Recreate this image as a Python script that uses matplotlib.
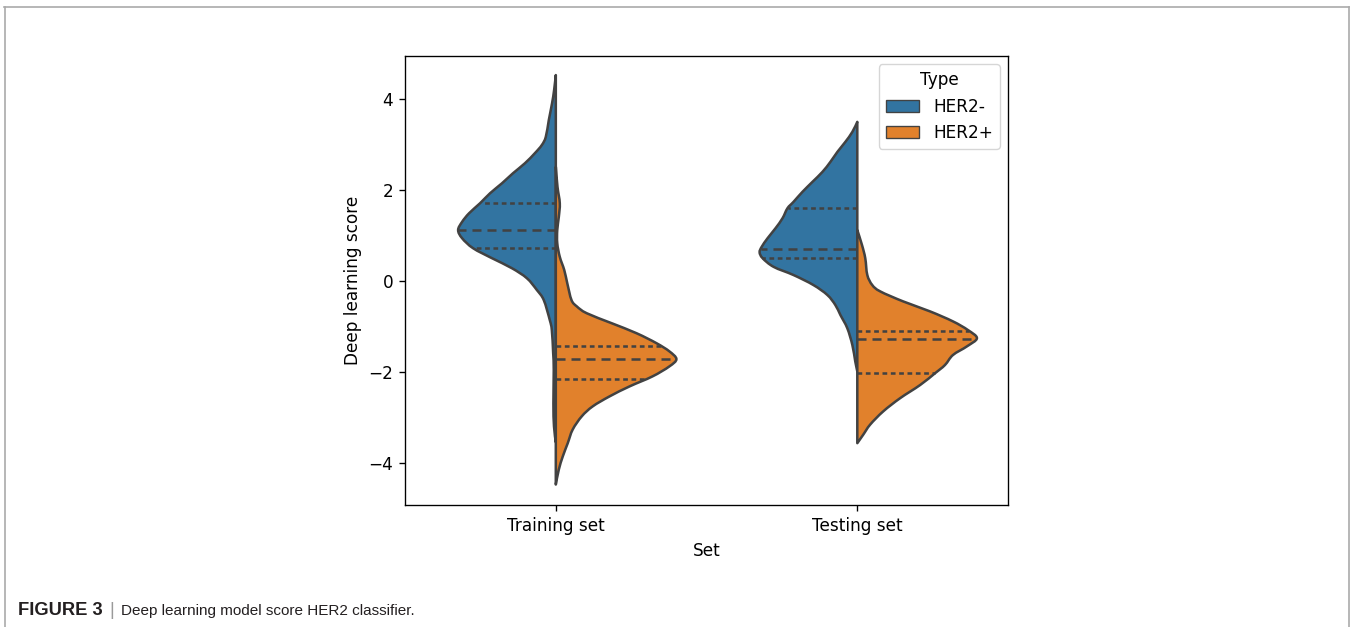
import numpy as np
import matplotlib
matplotlib.use("Agg")
import matplotlib.pyplot as plt
from matplotlib.lines import Line2D
from matplotlib.patches import Patch, PathPatch
from matplotlib.path import Path

## --- Data ---
SETS = ["Training set", "Testing set"]
TYPES = ["HER2-", "HER2+"]

# score levels and relative kernel density (1.0 = widest half) per violin half
train_neg_y = [4.53, 4.20, 3.91, 3.54, 3.17, 2.99, 2.81, 2.59, 2.37, 2.15, 1.93, 1.71, 1.49, 1.30,
               1.12, 0.94, 0.72, 0.50, 0.28, 0.06, -0.20, -0.42, -0.86, -1.08, -1.58, -1.96,
               -2.70, -3.20, -3.55]
train_neg_d = [0.0, 0.014, 0.031, 0.058, 0.083, 0.116, 0.174, 0.256, 0.355, 0.446, 0.545, 0.628,
               0.719, 0.777, 0.810, 0.777, 0.686, 0.529, 0.364, 0.240, 0.157, 0.10, 0.05, 0.033,
               0.022, 0.017, 0.02, 0.015, 0.0]

train_pos_y = [2.51, 2.07, 1.71, 1.41, 1.12, 0.83, 0.53, 0.24, -0.05, -0.42, -0.56, -0.71, -0.93,
               -1.15, -1.37, -1.55, -1.72, -1.88, -2.10, -2.32, -2.54, -2.76, -2.98, -3.27,
               -3.57, -3.86, -4.15, -4.48]
train_pos_d = [0.0, 0.014, 0.033, 0.025, 0.012, 0.012, 0.033, 0.070, 0.095, 0.13, 0.174, 0.256,
               0.463, 0.669, 0.835, 0.942, 1.0, 0.942, 0.802, 0.612, 0.446, 0.306, 0.215, 0.140,
               0.099, 0.058, 0.025, 0.0]

test_neg_y = [3.50, 3.28, 3.06, 2.84, 2.62, 2.40, 2.18, 1.96, 1.74, 1.60, 1.38, 1.16, 0.94, 0.75,
              0.63, 0.50, 0.31, 0.13, -0.09, -0.31, -0.53, -0.75, -1.04, -1.41, -1.77, -1.99]
test_neg_d = [0.0, 0.041, 0.099, 0.165, 0.223, 0.289, 0.372, 0.455, 0.529, 0.579, 0.620, 0.678,
              0.744, 0.793, 0.810, 0.785, 0.694, 0.529, 0.364, 0.248, 0.182, 0.140, 0.083, 0.041,
              0.017, 0.0]

test_pos_y = [1.12, 0.79, 0.50, 0.13, -0.09, -0.23, -0.45, -0.67, -0.89, -1.08, -1.26, -1.44,
              -1.63, -1.85, -2.03, -2.29, -2.58, -2.87, -3.16, -3.38, -3.57]
test_pos_d = [0.0, 0.039, 0.066, 0.083, 0.124, 0.190, 0.380, 0.603, 0.793, 0.917, 0.992, 0.909,
              0.793, 0.727, 0.645, 0.521, 0.355, 0.215, 0.107, 0.050, 0.0]

# quartiles (q1, median, q3)
train_neg_q = [0.72, 1.12, 1.72]
train_pos_q = [-2.16, -1.71, -1.44]
test_neg_q = [0.51, 0.70, 1.61]
test_pos_q = [-2.03, -1.28, -1.10]

## --- Style ---
S = 1.216  # reference was a 640x480 seaborn figure scaled up
COLORS = ["#3274a1", "#e1812c"]
EDGE = "#424242"
FS = 10 * S
LW = 1.5 * S
HALF_WIDTH = 0.4

plt.rcParams["font.family"] = "DejaVu Sans"
plt.rcParams["lines.scale_dashes"] = False


def smooth_half(pos, xs, ys):
    """Closed path: centre line plus a Catmull-Rom curve through the edge points"""
    pts = np.column_stack([xs, ys])
    verts = [(pos, ys[-1]), (pos, ys[0]), tuple(pts[0])]
    codes = [Path.MOVETO, Path.LINETO, Path.LINETO]
    n = len(pts)
    for i in range(n - 1):
        p0 = pts[max(i - 1, 0)]
        p1 = pts[i]
        p2 = pts[i + 1]
        p3 = pts[min(i + 2, n - 1)]
        c1 = p1 + (p2 - p0) / 6
        c2 = p2 - (p3 - p1) / 6
        verts += [tuple(c1), tuple(c2), tuple(p2)]
        codes += [Path.CURVE4] * 3
    verts.append((pos, ys[-1]))
    codes.append(Path.CLOSEPOLY)
    return Path(verts, codes)


fig = plt.figure(figsize=(13.52, 6.27), dpi=100)
ax = fig.add_axes([0.2996, 0.1946, 0.4460, 0.7161])

halves = [
    (0, 0, train_neg_y, train_neg_d, train_neg_q),
    (0, 1, train_pos_y, train_pos_d, train_pos_q),
    (1, 0, test_neg_y, test_neg_d, test_neg_q),
    (1, 1, test_pos_y, test_pos_d, test_pos_q),
]

for pos, side, ys, ds, qs in halves:
    ys = np.array(ys)
    ds = np.array(ds) * HALF_WIDTH
    sign = -1 if side == 0 else 1
    path = smooth_half(pos, pos + sign * ds, ys)
    ax.add_patch(PathPatch(path, facecolor=COLORS[side], edgecolor=EDGE,
                           linewidth=LW, joinstyle="round", zorder=2))
    for i, q in enumerate(qs):
        w = np.interp(q, ys[::-1], ds[::-1])
        dashes = (6.5, 4.3) if i == 1 else (3.4, 2.6)
        ax.plot([pos, pos + sign * w], [q, q], color=EDGE, lw=LW,
                linestyle=(0, dashes), zorder=3, dash_capstyle="butt")

ax.set_xlim(-0.5, 1.5)
ax.set_ylim(-4.93, 4.95)
ax.set_xticks(range(len(SETS)))
ax.set_xticklabels(SETS)
ax.set_yticks([-4, -2, 0, 2, 4])
ax.tick_params(labelsize=FS, length=3.5 * S, width=0.8 * S, pad=3.5 * S)
for sp in ax.spines.values():
    sp.set_linewidth(0.8 * S)
ax.set_xlabel("Set", fontsize=FS, labelpad=4 * S)
ax.set_ylabel("Deep learning score", fontsize=FS, labelpad=4 * S)

handles = [Patch(facecolor=c, edgecolor=EDGE, linewidth=0.8 * S) for c in COLORS]
ax.legend(handles, TYPES, title="Type", loc="upper right", fontsize=FS,
          title_fontsize=FS)

# page frame
frame_kw = dict(color="#aaaaaa", lw=1.2, transform=fig.transFigure)
fig.add_artist(Line2D([4 / 1352, 1349 / 1352], [1 - 6.5 / 627, 1 - 6.5 / 627], **frame_kw))
fig.add_artist(Line2D([4.5 / 1352, 4.5 / 1352], [0, 1 - 6.5 / 627], **frame_kw))
fig.add_artist(Line2D([1349 / 1352, 1349 / 1352], [0, 1 - 6.5 / 627], **frame_kw))

# caption
cap_y = 1 - 615 / 627
renderer = fig.canvas.get_renderer()
t1 = fig.text(18 / 1352, cap_y, "FIGURE 3", fontsize=13.2, fontweight="bold",
              family="Liberation Sans", color="#231f20", va="baseline")
x = t1.get_window_extent(renderer).x1 + 7
t2 = fig.text(x / 1352, cap_y, "|", fontsize=13.2, family="Liberation Sans",
              color="#9a9a9a", va="baseline")
x = t2.get_window_extent(renderer).x1 + 7
fig.text(x / 1352, cap_y, "Deep learning model score HER2 classifier.", fontsize=11,
         family="Liberation Sans", color="#231f20", va="baseline")

fig.savefig("out.png", dpi=100)
